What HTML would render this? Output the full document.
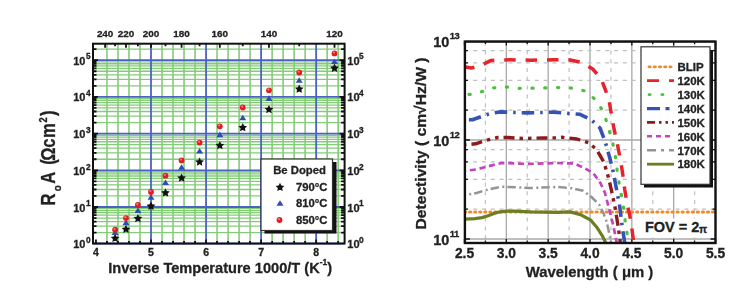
<!DOCTYPE html>
<html><head><meta charset="utf-8"><style>
html,body{margin:0;padding:0;background:#fff;width:750px;height:288px;overflow:hidden}
svg{display:block;filter:blur(0.4px);font-family:"Liberation Sans",sans-serif}
text{stroke:#222;stroke-width:0.3px}
</style></head><body>
<svg width="750" height="288" viewBox="0 0 750 288">
<line x1="106.96" y1="43.7" x2="106.96" y2="243.5" stroke="#84cc78" stroke-width="1.6"/>
<line x1="117.97" y1="43.7" x2="117.97" y2="243.5" stroke="#84cc78" stroke-width="1.6"/>
<line x1="128.98" y1="43.7" x2="128.98" y2="243.5" stroke="#84cc78" stroke-width="1.6"/>
<line x1="139.99" y1="43.7" x2="139.99" y2="243.5" stroke="#84cc78" stroke-width="1.6"/>
<line x1="162.01" y1="43.7" x2="162.01" y2="243.5" stroke="#84cc78" stroke-width="1.6"/>
<line x1="173.02" y1="43.7" x2="173.02" y2="243.5" stroke="#84cc78" stroke-width="1.6"/>
<line x1="184.03" y1="43.7" x2="184.03" y2="243.5" stroke="#84cc78" stroke-width="1.6"/>
<line x1="195.04" y1="43.7" x2="195.04" y2="243.5" stroke="#84cc78" stroke-width="1.6"/>
<line x1="217.06" y1="43.7" x2="217.06" y2="243.5" stroke="#84cc78" stroke-width="1.6"/>
<line x1="228.07" y1="43.7" x2="228.07" y2="243.5" stroke="#84cc78" stroke-width="1.6"/>
<line x1="239.08" y1="43.7" x2="239.08" y2="243.5" stroke="#84cc78" stroke-width="1.6"/>
<line x1="250.09" y1="43.7" x2="250.09" y2="243.5" stroke="#84cc78" stroke-width="1.6"/>
<line x1="272.11" y1="43.7" x2="272.11" y2="243.5" stroke="#84cc78" stroke-width="1.6"/>
<line x1="283.12" y1="43.7" x2="283.12" y2="243.5" stroke="#84cc78" stroke-width="1.6"/>
<line x1="294.13" y1="43.7" x2="294.13" y2="243.5" stroke="#84cc78" stroke-width="1.6"/>
<line x1="305.14" y1="43.7" x2="305.14" y2="243.5" stroke="#84cc78" stroke-width="1.6"/>
<line x1="327.16" y1="43.7" x2="327.16" y2="243.5" stroke="#84cc78" stroke-width="1.6"/>
<line x1="338.17" y1="43.7" x2="338.17" y2="243.5" stroke="#84cc78" stroke-width="1.6"/>
<line x1="93.0" y1="232.65" x2="344.6" y2="232.65" stroke="#84cc78" stroke-width="1.3"/>
<line x1="93.0" y1="226.19" x2="344.6" y2="226.19" stroke="#84cc78" stroke-width="1.3"/>
<line x1="93.0" y1="221.60" x2="344.6" y2="221.60" stroke="#84cc78" stroke-width="1.3"/>
<line x1="93.0" y1="218.05" x2="344.6" y2="218.05" stroke="#84cc78" stroke-width="1.3"/>
<line x1="93.0" y1="215.14" x2="344.6" y2="215.14" stroke="#84cc78" stroke-width="1.3"/>
<line x1="93.0" y1="212.68" x2="344.6" y2="212.68" stroke="#84cc78" stroke-width="1.3"/>
<line x1="93.0" y1="210.56" x2="344.6" y2="210.56" stroke="#84cc78" stroke-width="1.3"/>
<line x1="93.0" y1="208.68" x2="344.6" y2="208.68" stroke="#84cc78" stroke-width="1.3"/>
<line x1="93.0" y1="195.95" x2="344.6" y2="195.95" stroke="#84cc78" stroke-width="1.3"/>
<line x1="93.0" y1="189.49" x2="344.6" y2="189.49" stroke="#84cc78" stroke-width="1.3"/>
<line x1="93.0" y1="184.90" x2="344.6" y2="184.90" stroke="#84cc78" stroke-width="1.3"/>
<line x1="93.0" y1="181.35" x2="344.6" y2="181.35" stroke="#84cc78" stroke-width="1.3"/>
<line x1="93.0" y1="178.44" x2="344.6" y2="178.44" stroke="#84cc78" stroke-width="1.3"/>
<line x1="93.0" y1="175.98" x2="344.6" y2="175.98" stroke="#84cc78" stroke-width="1.3"/>
<line x1="93.0" y1="173.86" x2="344.6" y2="173.86" stroke="#84cc78" stroke-width="1.3"/>
<line x1="93.0" y1="171.98" x2="344.6" y2="171.98" stroke="#84cc78" stroke-width="1.3"/>
<line x1="93.0" y1="159.25" x2="344.6" y2="159.25" stroke="#84cc78" stroke-width="1.3"/>
<line x1="93.0" y1="152.79" x2="344.6" y2="152.79" stroke="#84cc78" stroke-width="1.3"/>
<line x1="93.0" y1="148.20" x2="344.6" y2="148.20" stroke="#84cc78" stroke-width="1.3"/>
<line x1="93.0" y1="144.65" x2="344.6" y2="144.65" stroke="#84cc78" stroke-width="1.3"/>
<line x1="93.0" y1="141.74" x2="344.6" y2="141.74" stroke="#84cc78" stroke-width="1.3"/>
<line x1="93.0" y1="139.28" x2="344.6" y2="139.28" stroke="#84cc78" stroke-width="1.3"/>
<line x1="93.0" y1="137.16" x2="344.6" y2="137.16" stroke="#84cc78" stroke-width="1.3"/>
<line x1="93.0" y1="135.28" x2="344.6" y2="135.28" stroke="#84cc78" stroke-width="1.3"/>
<line x1="93.0" y1="122.55" x2="344.6" y2="122.55" stroke="#84cc78" stroke-width="1.3"/>
<line x1="93.0" y1="116.09" x2="344.6" y2="116.09" stroke="#84cc78" stroke-width="1.3"/>
<line x1="93.0" y1="111.50" x2="344.6" y2="111.50" stroke="#84cc78" stroke-width="1.3"/>
<line x1="93.0" y1="107.95" x2="344.6" y2="107.95" stroke="#84cc78" stroke-width="1.3"/>
<line x1="93.0" y1="105.04" x2="344.6" y2="105.04" stroke="#84cc78" stroke-width="1.3"/>
<line x1="93.0" y1="102.58" x2="344.6" y2="102.58" stroke="#84cc78" stroke-width="1.3"/>
<line x1="93.0" y1="100.46" x2="344.6" y2="100.46" stroke="#84cc78" stroke-width="1.3"/>
<line x1="93.0" y1="98.58" x2="344.6" y2="98.58" stroke="#84cc78" stroke-width="1.3"/>
<line x1="93.0" y1="85.85" x2="344.6" y2="85.85" stroke="#84cc78" stroke-width="1.3"/>
<line x1="93.0" y1="79.39" x2="344.6" y2="79.39" stroke="#84cc78" stroke-width="1.3"/>
<line x1="93.0" y1="74.80" x2="344.6" y2="74.80" stroke="#84cc78" stroke-width="1.3"/>
<line x1="93.0" y1="71.25" x2="344.6" y2="71.25" stroke="#84cc78" stroke-width="1.3"/>
<line x1="93.0" y1="68.34" x2="344.6" y2="68.34" stroke="#84cc78" stroke-width="1.3"/>
<line x1="93.0" y1="65.88" x2="344.6" y2="65.88" stroke="#84cc78" stroke-width="1.3"/>
<line x1="93.0" y1="63.76" x2="344.6" y2="63.76" stroke="#84cc78" stroke-width="1.3"/>
<line x1="93.0" y1="61.88" x2="344.6" y2="61.88" stroke="#84cc78" stroke-width="1.3"/>
<line x1="93.0" y1="49.15" x2="344.6" y2="49.15" stroke="#84cc78" stroke-width="1.3"/>
<line x1="151.00" y1="43.7" x2="151.00" y2="243.5" stroke="#4a62c4" stroke-width="1.8"/>
<line x1="206.05" y1="43.7" x2="206.05" y2="243.5" stroke="#4a62c4" stroke-width="1.8"/>
<line x1="261.10" y1="43.7" x2="261.10" y2="243.5" stroke="#4a62c4" stroke-width="1.8"/>
<line x1="316.15" y1="43.7" x2="316.15" y2="243.5" stroke="#4a62c4" stroke-width="1.8"/>
<line x1="93.0" y1="243.70" x2="344.6" y2="243.70" stroke="#4a62c4" stroke-width="1.8"/>
<line x1="93.0" y1="207.00" x2="344.6" y2="207.00" stroke="#4a62c4" stroke-width="1.8"/>
<line x1="93.0" y1="170.30" x2="344.6" y2="170.30" stroke="#4a62c4" stroke-width="1.8"/>
<line x1="93.0" y1="133.60" x2="344.6" y2="133.60" stroke="#4a62c4" stroke-width="1.8"/>
<line x1="93.0" y1="96.90" x2="344.6" y2="96.90" stroke="#4a62c4" stroke-width="1.8"/>
<line x1="93.0" y1="60.20" x2="344.6" y2="60.20" stroke="#4a62c4" stroke-width="1.8"/>
<path d="M93.0 232.65h3.5M344.6 232.65h-3.5M93.0 226.19h3.5M344.6 226.19h-3.5M93.0 221.60h3.5M344.6 221.60h-3.5M93.0 218.05h3.5M344.6 218.05h-3.5M93.0 215.14h3.5M344.6 215.14h-3.5M93.0 212.68h3.5M344.6 212.68h-3.5M93.0 210.56h3.5M344.6 210.56h-3.5M93.0 208.68h3.5M344.6 208.68h-3.5M93.0 207.00h5M344.6 207.00h-5M93.0 195.95h3.5M344.6 195.95h-3.5M93.0 189.49h3.5M344.6 189.49h-3.5M93.0 184.90h3.5M344.6 184.90h-3.5M93.0 181.35h3.5M344.6 181.35h-3.5M93.0 178.44h3.5M344.6 178.44h-3.5M93.0 175.98h3.5M344.6 175.98h-3.5M93.0 173.86h3.5M344.6 173.86h-3.5M93.0 171.98h3.5M344.6 171.98h-3.5M93.0 170.30h5M344.6 170.30h-5M93.0 159.25h3.5M344.6 159.25h-3.5M93.0 152.79h3.5M344.6 152.79h-3.5M93.0 148.20h3.5M344.6 148.20h-3.5M93.0 144.65h3.5M344.6 144.65h-3.5M93.0 141.74h3.5M344.6 141.74h-3.5M93.0 139.28h3.5M344.6 139.28h-3.5M93.0 137.16h3.5M344.6 137.16h-3.5M93.0 135.28h3.5M344.6 135.28h-3.5M93.0 133.60h5M344.6 133.60h-5M93.0 122.55h3.5M344.6 122.55h-3.5M93.0 116.09h3.5M344.6 116.09h-3.5M93.0 111.50h3.5M344.6 111.50h-3.5M93.0 107.95h3.5M344.6 107.95h-3.5M93.0 105.04h3.5M344.6 105.04h-3.5M93.0 102.58h3.5M344.6 102.58h-3.5M93.0 100.46h3.5M344.6 100.46h-3.5M93.0 98.58h3.5M344.6 98.58h-3.5M93.0 96.90h5M344.6 96.90h-5M93.0 85.85h3.5M344.6 85.85h-3.5M93.0 79.39h3.5M344.6 79.39h-3.5M93.0 74.80h3.5M344.6 74.80h-3.5M93.0 71.25h3.5M344.6 71.25h-3.5M93.0 68.34h3.5M344.6 68.34h-3.5M93.0 65.88h3.5M344.6 65.88h-3.5M93.0 63.76h3.5M344.6 63.76h-3.5M93.0 61.88h3.5M344.6 61.88h-3.5M93.0 60.20h5M344.6 60.20h-5M93.0 49.15h3.5M344.6 49.15h-3.5M95.95 243.5v-4M106.96 243.5v-2.5M117.97 243.5v-2.5M128.98 243.5v-2.5M139.99 243.5v-2.5M151.00 243.5v-4M162.01 243.5v-2.5M173.02 243.5v-2.5M184.03 243.5v-2.5M195.04 243.5v-2.5M206.05 243.5v-4M217.06 243.5v-2.5M228.07 243.5v-2.5M239.08 243.5v-2.5M250.09 243.5v-2.5M261.10 243.5v-4M272.11 243.5v-2.5M283.12 243.5v-2.5M294.13 243.5v-2.5M305.14 243.5v-2.5M316.15 243.5v-4M327.16 243.5v-2.5M338.17 243.5v-2.5M334.50 43.7v4M299.21 43.7v2.5M268.96 43.7v4M242.75 43.7v2.5M219.81 43.7v4M199.57 43.7v2.5M181.58 43.7v4M165.49 43.7v2.5M151.00 43.7v4M137.89 43.7v2.5M125.98 43.7v4M115.10 43.7v2.5M105.13 43.7v4" stroke="#111" stroke-width="1.8" fill="none"/>
<polygon points="115.10,233.80 116.45,236.54 119.47,236.98 117.29,239.11 117.80,242.12 115.10,240.70 112.39,242.12 112.91,239.11 110.72,236.98 113.75,236.54" fill="#111"/>
<polygon points="111.60,235.10 118.60,235.10 115.10,229.50" fill="#2f4fae"/>
<circle cx="115.10" cy="229.70" r="2.9" fill="#e41b23"/><circle cx="114.50" cy="228.80" r="1.1" fill="#f47a7a"/>
<polygon points="125.98,224.70 127.33,227.44 130.35,227.88 128.16,230.01 128.68,233.02 125.98,231.60 123.27,233.02 123.79,230.01 121.60,227.88 124.63,227.44" fill="#111"/>
<polygon points="122.48,225.20 129.48,225.20 125.98,219.60" fill="#2f4fae"/>
<circle cx="125.98" cy="218.10" r="2.9" fill="#e41b23"/><circle cx="125.38" cy="217.20" r="1.1" fill="#f47a7a"/>
<polygon points="137.89,213.90 139.24,216.64 142.27,217.08 140.08,219.21 140.60,222.22 137.89,220.80 135.19,222.22 135.71,219.21 133.52,217.08 136.54,216.64" fill="#111"/>
<polygon points="134.39,213.10 141.39,213.10 137.89,207.50" fill="#2f4fae"/>
<circle cx="137.89" cy="205.00" r="2.9" fill="#e41b23"/><circle cx="137.29" cy="204.10" r="1.1" fill="#f47a7a"/>
<polygon points="151.00,201.60 152.35,204.34 155.37,204.78 153.19,206.91 153.70,209.92 151.00,208.50 148.30,209.92 148.81,206.91 146.63,204.78 149.65,204.34" fill="#111"/>
<polygon points="147.50,199.80 154.50,199.80 151.00,194.20" fill="#2f4fae"/>
<circle cx="151.00" cy="191.90" r="2.9" fill="#e41b23"/><circle cx="150.40" cy="191.00" r="1.1" fill="#f47a7a"/>
<polygon points="165.49,188.30 166.84,191.04 169.86,191.48 167.67,193.61 168.19,196.62 165.49,195.20 162.78,196.62 163.30,193.61 161.11,191.48 164.13,191.04" fill="#111"/>
<polygon points="161.99,185.10 168.99,185.10 165.49,179.50" fill="#2f4fae"/>
<circle cx="165.49" cy="175.70" r="2.9" fill="#e41b23"/><circle cx="164.89" cy="174.80" r="1.1" fill="#f47a7a"/>
<polygon points="181.58,173.40 182.94,176.14 185.96,176.58 183.77,178.71 184.29,181.72 181.58,180.30 178.88,181.72 179.40,178.71 177.21,176.58 180.23,176.14" fill="#111"/>
<polygon points="178.08,169.80 185.08,169.80 181.58,164.20" fill="#2f4fae"/>
<circle cx="181.58" cy="160.40" r="2.9" fill="#e41b23"/><circle cx="180.98" cy="159.50" r="1.1" fill="#f47a7a"/>
<polygon points="199.57,157.40 200.93,160.14 203.95,160.58 201.76,162.71 202.28,165.72 199.57,164.30 196.87,165.72 197.39,162.71 195.20,160.58 198.22,160.14" fill="#111"/>
<polygon points="196.07,153.50 203.07,153.50 199.57,147.90" fill="#2f4fae"/>
<circle cx="199.57" cy="142.60" r="2.9" fill="#e41b23"/><circle cx="198.97" cy="141.70" r="1.1" fill="#f47a7a"/>
<polygon points="219.81,140.90 221.16,143.64 224.19,144.08 222.00,146.21 222.52,149.22 219.81,147.80 217.11,149.22 217.63,146.21 215.44,144.08 218.46,143.64" fill="#111"/>
<polygon points="216.31,137.20 223.31,137.20 219.81,131.60" fill="#2f4fae"/>
<circle cx="219.81" cy="126.30" r="2.9" fill="#e41b23"/><circle cx="219.21" cy="125.40" r="1.1" fill="#f47a7a"/>
<polygon points="242.75,123.00 244.10,125.74 247.12,126.18 244.94,128.31 245.45,131.32 242.75,129.90 240.05,131.32 240.56,128.31 238.38,126.18 241.40,125.74" fill="#111"/>
<polygon points="239.25,120.30 246.25,120.30 242.75,114.70" fill="#2f4fae"/>
<circle cx="242.75" cy="107.50" r="2.9" fill="#e41b23"/><circle cx="242.15" cy="106.60" r="1.1" fill="#f47a7a"/>
<polygon points="268.96,104.90 270.32,107.64 273.34,108.08 271.15,110.21 271.67,113.22 268.96,111.80 266.26,113.22 266.78,110.21 264.59,108.08 267.61,107.64" fill="#111"/>
<polygon points="265.46,100.90 272.46,100.90 268.96,95.30" fill="#2f4fae"/>
<circle cx="268.96" cy="90.30" r="2.9" fill="#e41b23"/><circle cx="268.36" cy="89.40" r="1.1" fill="#f47a7a"/>
<polygon points="299.21,84.50 300.56,87.24 303.59,87.68 301.40,89.81 301.92,92.82 299.21,91.40 296.51,92.82 297.02,89.81 294.84,87.68 297.86,87.24" fill="#111"/>
<polygon points="295.71,82.80 302.71,82.80 299.21,77.20" fill="#2f4fae"/>
<circle cx="299.21" cy="72.50" r="2.9" fill="#e41b23"/><circle cx="298.61" cy="71.60" r="1.1" fill="#f47a7a"/>
<polygon points="334.50,63.60 335.85,66.34 338.87,66.78 336.69,68.91 337.20,71.92 334.50,70.50 331.80,71.92 332.31,68.91 330.13,66.78 333.15,66.34" fill="#111"/>
<polygon points="331.00,64.05 338.00,64.05 334.50,58.45" fill="#2f4fae"/>
<circle cx="334.50" cy="53.40" r="2.9" fill="#e41b23"/><circle cx="333.90" cy="52.50" r="1.1" fill="#f47a7a"/>
<rect x="264.5" y="162" width="72" height="71.5" fill="#111"/>
<rect x="261" y="159" width="71.5" height="71.5" fill="#fff" stroke="#333" stroke-width="1.2"/>
<text x="273.2" y="173.6" font-size="11.3" font-weight="bold" fill="#222">Be Doped</text>
<polygon points="280.00,182.80 281.35,185.54 284.37,185.98 282.19,188.11 282.70,191.12 280.00,189.70 277.30,191.12 277.81,188.11 275.63,185.98 278.65,185.54" fill="#111"/>
<polygon points="276.50,205.80 283.50,205.80 280.00,200.20" fill="#2f4fae"/>
<circle cx="279.50" cy="220.00" r="2.9" fill="#e41b23"/><circle cx="278.90" cy="219.10" r="1.1" fill="#f47a7a"/>
<text x="296" y="190.5" font-size="11.3" font-weight="bold" fill="#222">790°C</text>
<text x="296" y="207" font-size="11.3" font-weight="bold" fill="#222">810°C</text>
<text x="296" y="223.5" font-size="11.3" font-weight="bold" fill="#222">850°C</text>
<rect x="93.0" y="43.7" width="251.60000000000002" height="199.8" fill="none" stroke="#111" stroke-width="2"/>
<text x="95.95" y="256" font-size="10.5" font-weight="bold" fill="#222" text-anchor="middle">4</text>
<text x="151.00" y="256" font-size="10.5" font-weight="bold" fill="#222" text-anchor="middle">5</text>
<text x="206.05" y="256" font-size="10.5" font-weight="bold" fill="#222" text-anchor="middle">6</text>
<text x="261.10" y="256" font-size="10.5" font-weight="bold" fill="#222" text-anchor="middle">7</text>
<text x="316.15" y="256" font-size="10.5" font-weight="bold" fill="#222" text-anchor="middle">8</text>
<text x="105.13" y="37.3" font-size="9.9" font-weight="bold" fill="#222" text-anchor="middle">240</text>
<text x="125.98" y="37.3" font-size="9.9" font-weight="bold" fill="#222" text-anchor="middle">220</text>
<text x="151.00" y="37.3" font-size="9.9" font-weight="bold" fill="#222" text-anchor="middle">200</text>
<text x="181.58" y="37.3" font-size="9.9" font-weight="bold" fill="#222" text-anchor="middle">180</text>
<text x="219.81" y="37.3" font-size="9.9" font-weight="bold" fill="#222" text-anchor="middle">160</text>
<text x="268.96" y="37.3" font-size="9.9" font-weight="bold" fill="#222" text-anchor="middle">140</text>
<text x="334.50" y="37.3" font-size="9.9" font-weight="bold" fill="#222" text-anchor="middle">120</text>
<text x="85.5" y="248.20" font-size="11" font-weight="bold" fill="#222" text-anchor="end">10</text>
<text x="86" y="242.90" font-size="8.3" font-weight="bold" fill="#222">0</text>
<text x="347.3" y="248.20" font-size="11" font-weight="bold" fill="#222">10</text>
<text x="359" y="242.90" font-size="8.3" font-weight="bold" fill="#222">0</text>
<text x="85.5" y="211.50" font-size="11" font-weight="bold" fill="#222" text-anchor="end">10</text>
<text x="86" y="206.20" font-size="8.3" font-weight="bold" fill="#222">1</text>
<text x="347.3" y="211.50" font-size="11" font-weight="bold" fill="#222">10</text>
<text x="359" y="206.20" font-size="8.3" font-weight="bold" fill="#222">1</text>
<text x="85.5" y="174.80" font-size="11" font-weight="bold" fill="#222" text-anchor="end">10</text>
<text x="86" y="169.50" font-size="8.3" font-weight="bold" fill="#222">2</text>
<text x="347.3" y="174.80" font-size="11" font-weight="bold" fill="#222">10</text>
<text x="359" y="169.50" font-size="8.3" font-weight="bold" fill="#222">2</text>
<text x="85.5" y="138.10" font-size="11" font-weight="bold" fill="#222" text-anchor="end">10</text>
<text x="86" y="132.80" font-size="8.3" font-weight="bold" fill="#222">3</text>
<text x="347.3" y="138.10" font-size="11" font-weight="bold" fill="#222">10</text>
<text x="359" y="132.80" font-size="8.3" font-weight="bold" fill="#222">3</text>
<text x="85.5" y="101.40" font-size="11" font-weight="bold" fill="#222" text-anchor="end">10</text>
<text x="86" y="96.10" font-size="8.3" font-weight="bold" fill="#222">4</text>
<text x="347.3" y="101.40" font-size="11" font-weight="bold" fill="#222">10</text>
<text x="359" y="96.10" font-size="8.3" font-weight="bold" fill="#222">4</text>
<text x="85.5" y="64.70" font-size="11" font-weight="bold" fill="#222" text-anchor="end">10</text>
<text x="86" y="59.40" font-size="8.3" font-weight="bold" fill="#222">5</text>
<text x="347.3" y="64.70" font-size="11" font-weight="bold" fill="#222">10</text>
<text x="359" y="59.40" font-size="8.3" font-weight="bold" fill="#222">5</text>
<text x="108.2" y="273.1" font-size="15.4" font-weight="bold" fill="#222" textLength="224" lengthAdjust="spacingAndGlyphs">Inverse Temperature 1000/T (K<tspan font-size="9" dy="-8.5">-1</tspan><tspan dy="8.5">)</tspan></text>
<text transform="translate(54.8,204.5) rotate(-90) scale(0.85,1)" font-weight="bold" fill="#222" stroke="#222" stroke-width="0.45"><tspan x="-1.14" y="0" font-size="19.5">R</tspan><tspan x="15.66" y="6.3" font-size="11.5">o</tspan><tspan x="24.38" y="0" font-size="19.5">A</tspan><tspan x="46.86" y="0" font-size="19.5">(</tspan><tspan x="51.59" y="0" font-size="19.5">Ω</tspan><tspan x="66.72" y="0" font-size="19.5">c</tspan><tspan x="78.12" y="0" font-size="19.5">m</tspan><tspan x="96.41" y="-7.8" font-size="10.9">2</tspan><tspan x="104.05" y="0" font-size="19.5">)</tspan></text>
<line x1="485.42" y1="41.6" x2="485.42" y2="243.0" stroke="#c0c0c0" stroke-width="1.2" stroke-dasharray="4 4.8"/>
<line x1="506.33" y1="41.6" x2="506.33" y2="243.0" stroke="#a8a8a8" stroke-width="1.3"/>
<line x1="527.25" y1="41.6" x2="527.25" y2="243.0" stroke="#c0c0c0" stroke-width="1.2" stroke-dasharray="4 4.8"/>
<line x1="548.17" y1="41.6" x2="548.17" y2="243.0" stroke="#a8a8a8" stroke-width="1.3"/>
<line x1="569.09" y1="41.6" x2="569.09" y2="243.0" stroke="#c0c0c0" stroke-width="1.2" stroke-dasharray="4 4.8"/>
<line x1="590.00" y1="41.6" x2="590.00" y2="243.0" stroke="#a8a8a8" stroke-width="1.3"/>
<line x1="610.92" y1="41.6" x2="610.92" y2="243.0" stroke="#c0c0c0" stroke-width="1.2" stroke-dasharray="4 4.8"/>
<line x1="631.84" y1="41.6" x2="631.84" y2="243.0" stroke="#a8a8a8" stroke-width="1.3"/>
<line x1="652.76" y1="41.6" x2="652.76" y2="243.0" stroke="#c0c0c0" stroke-width="1.2" stroke-dasharray="4 4.8"/>
<line x1="673.67" y1="41.6" x2="673.67" y2="243.0" stroke="#a8a8a8" stroke-width="1.3"/>
<line x1="694.59" y1="41.6" x2="694.59" y2="243.0" stroke="#c0c0c0" stroke-width="1.2" stroke-dasharray="4 4.8"/>
<line x1="464.9" y1="209.20" x2="715.5" y2="209.20" stroke="#c0c0c0" stroke-width="1.2" stroke-dasharray="4 4.8" stroke-dashoffset="0.5"/>
<line x1="464.9" y1="179.40" x2="715.5" y2="179.40" stroke="#c0c0c0" stroke-width="1.2" stroke-dasharray="4 4.8" stroke-dashoffset="0.5"/>
<line x1="464.9" y1="161.96" x2="715.5" y2="161.96" stroke="#c0c0c0" stroke-width="1.2" stroke-dasharray="4 4.8" stroke-dashoffset="0.5"/>
<line x1="464.9" y1="149.59" x2="715.5" y2="149.59" stroke="#c0c0c0" stroke-width="1.2" stroke-dasharray="4 4.8" stroke-dashoffset="0.5"/>
<line x1="464.9" y1="110.20" x2="715.5" y2="110.20" stroke="#c0c0c0" stroke-width="1.2" stroke-dasharray="4 4.8" stroke-dashoffset="0.5"/>
<line x1="464.9" y1="80.40" x2="715.5" y2="80.40" stroke="#c0c0c0" stroke-width="1.2" stroke-dasharray="4 4.8" stroke-dashoffset="0.5"/>
<line x1="464.9" y1="62.96" x2="715.5" y2="62.96" stroke="#c0c0c0" stroke-width="1.2" stroke-dasharray="4 4.8" stroke-dashoffset="0.5"/>
<line x1="464.9" y1="50.59" x2="715.5" y2="50.59" stroke="#c0c0c0" stroke-width="1.2" stroke-dasharray="4 4.8" stroke-dashoffset="0.5"/>
<line x1="464.9" y1="239.00" x2="715.5" y2="239.00" stroke="#a8a8a8" stroke-width="1.3"/>
<line x1="464.9" y1="140.00" x2="715.5" y2="140.00" stroke="#a8a8a8" stroke-width="1.3"/>
<line x1="464.9" y1="41.00" x2="715.5" y2="41.00" stroke="#a8a8a8" stroke-width="1.3"/>
<path d="M464.9 239.00h5M715.5 239.00h-5M464.9 209.20h3M715.5 209.20h-3M464.9 179.40h3M715.5 179.40h-3M464.9 161.96h3M715.5 161.96h-3M464.9 149.59h3M715.5 149.59h-3M464.9 140.00h5M715.5 140.00h-5M464.9 110.20h3M715.5 110.20h-3M464.9 80.40h3M715.5 80.40h-3M464.9 62.96h3M715.5 62.96h-3M464.9 50.59h3M715.5 50.59h-3M464.50 243.0v-4M464.50 41.6v4M485.42 243.0v-2.5M485.42 41.6v2.5M506.33 243.0v-4M506.33 41.6v4M527.25 243.0v-2.5M527.25 41.6v2.5M548.17 243.0v-4M548.17 41.6v4M569.09 243.0v-2.5M569.09 41.6v2.5M590.00 243.0v-4M590.00 41.6v4M610.92 243.0v-2.5M610.92 41.6v2.5M631.84 243.0v-4M631.84 41.6v4M652.76 243.0v-2.5M652.76 41.6v2.5M673.67 243.0v-4M673.67 41.6v4M694.59 243.0v-2.5M694.59 41.6v2.5M715.51 243.0v-4M715.51 41.6v4" stroke="#111" stroke-width="1.3" fill="none"/>
<clipPath id="cr"><rect x="464.9" y="41.6" width="250.60000000000002" height="201.4"/></clipPath>
<g clip-path="url(#cr)"><line x1="464.9" y1="212.1" x2="715.5" y2="212.1" stroke="#f28a2a" stroke-width="3.0" stroke-dasharray="1.2 3.86" stroke-linecap="round" stroke-dashoffset="0.4"/>
<path d="M465.0 219.2 L475.0 218.6 L482.0 217.6 L488.0 215.8 L494.0 213.4 L500.0 211.8 L507.0 211.1 L515.0 211.2 L530.0 211.9 L557.0 212.3 L570.0 211.9 L580.4 214.6 L590.8 220.2 L597.0 227.5 L602.3 235.8 L605.8 243.0 L606.5 246.0" stroke="#6e7c22" stroke-width="3.2" fill="none" stroke-linejoin="round"/>
<path d="M465.0 195.0 L476.7 193.0 L485.0 190.3 L501.7 186.7 L529.4 188.0 L557.2 187.0 L572.0 188.3 L583.2 190.8 L591.5 197.0 L599.2 204.6 L603.3 212.9 L606.5 221.2 L608.5 230.0 L610.6 240.0 L611.2 245.0" stroke="#959595" stroke-width="2.5" fill="none" stroke-linejoin="round" stroke-dasharray="8.5 3.5 2 3" stroke-dashoffset="7.69"/>
<path d="M465.0 170.8 L476.7 169.4 L486.4 166.7 L501.7 163.0 L529.4 163.9 L557.2 163.0 L574.6 163.5 L583.7 167.7 L593.4 173.2 L600.7 183.5 L605.0 193.0 L609.5 210.3 L612.7 223.2 L615.8 237.3 L617.0 245.0" stroke="#c444c0" stroke-width="2.7" fill="none" stroke-linejoin="round" stroke-dasharray="6 3.8" stroke-dashoffset="4.89"/>
<path d="M465.0 144.8 L475.6 143.8 L485.0 140.6 L497.5 137.5 L508.0 137.5 L522.5 138.5 L543.0 138.0 L555.0 137.9 L562.0 137.3 L577.0 139.0 L588.5 142.7 L596.5 149.4 L603.8 162.0 L607.5 174.0 L610.0 184.0 L612.5 195.0 L614.8 206.0 L616.8 218.0 L618.5 229.0 L620.0 240.0 L620.5 245.0" stroke="#8c1c1c" stroke-width="3.4" fill="none" stroke-linejoin="round" stroke-dasharray="11 5 3.5 5 3.5 5" stroke-dashoffset="26.52"/>
<path d="M465.0 119.8 L472.5 119.8 L484.0 115.6 L490.0 113.5 L500.6 111.9 L526.7 112.9 L553.8 112.1 L580.0 114.3 L591.0 119.5 L600.0 128.0 L604.0 138.5 L606.5 146.0 L609.8 158.0 L613.0 171.0 L615.5 184.0 L617.8 196.0 L619.8 207.0 L621.0 217.0 L622.3 227.5 L624.0 238.0 L625.0 245.0" stroke="#3552b5" stroke-width="3.6" fill="none" stroke-linejoin="round" stroke-dasharray="12.5 6 2.5 6" stroke-dashoffset="23.06"/>
<path d="M465.0 94.6 L473.5 94.2 L480.8 92.0 L492.3 88.0 L504.8 86.9 L518.0 88.3 L543.0 88.0 L557.0 87.5 L570.8 88.0 L585.4 91.0 L597.0 101.0 L604.3 113.8 L608.0 126.5 L611.6 138.6 L614.7 151.9 L616.4 164.0 L617.8 176.2 L620.3 189.6 L623.0 203.5 L624.5 216.0 L626.2 228.5 L628.3 240.0 L629.0 245.0" stroke="#4cbf3c" stroke-width="3.2" fill="none" stroke-linejoin="round" stroke-dasharray="1.2 11.6" stroke-dashoffset="8.74" stroke-linecap="round"/>
<path d="M465.0 67.0 L471.5 68.0 L480.0 66.0 L491.0 60.4 L510.0 59.8 L531.0 60.2 L554.0 59.8 L569.0 59.8 L582.0 62.5 L592.7 69.0 L601.0 78.5 L605.5 90.0 L609.2 101.0 L611.5 115.0 L614.0 129.0 L617.0 142.0 L619.5 155.0 L621.5 166.0 L623.3 178.0 L624.8 190.0 L627.0 203.0 L629.5 214.0 L631.5 226.0 L633.0 237.0 L634.0 245.0" stroke="#e8232b" stroke-width="3.5" fill="none" stroke-linejoin="round" stroke-dasharray="11.5 9.9" stroke-dashoffset="1.94"/></g>
<rect x="644" y="50" width="69" height="137.5" fill="#111"/>
<rect x="641" y="46.8" width="69" height="137.5" fill="#fff" stroke="#333" stroke-width="1.2"/>
<line x1="649" y1="66.80" x2="674" y2="66.80" stroke="#f28a2a" stroke-width="2.8" stroke-linecap="round" stroke-dasharray="1.3 3.9"/>
<text x="677.4" y="71.10" font-size="11.5" font-weight="bold" fill="#222">BLIP</text>
<line x1="647" y1="80.71" x2="674" y2="80.71" stroke="#e8232b" stroke-width="2.8" stroke-dasharray="12 10"/>
<text x="677.4" y="85.01" font-size="11.5" font-weight="bold" fill="#222">120K</text>
<line x1="649" y1="94.62" x2="674" y2="94.62" stroke="#4cbf3c" stroke-width="2.8" stroke-linecap="round" stroke-dasharray="1.2 11.6"/>
<text x="677.4" y="98.92" font-size="11.5" font-weight="bold" fill="#222">130K</text>
<line x1="647" y1="108.53" x2="674" y2="108.53" stroke="#3552b5" stroke-width="3.3" stroke-dasharray="13 5.5 4 6"/>
<text x="677.4" y="112.83" font-size="11.5" font-weight="bold" fill="#222">140K</text>
<line x1="647" y1="122.44" x2="674" y2="122.44" stroke="#8c1c1c" stroke-width="2.8" stroke-dasharray="8 4 2.5 4 2.5 4"/>
<text x="677.4" y="126.74" font-size="11.5" font-weight="bold" fill="#222">150K</text>
<line x1="647" y1="136.35" x2="674" y2="136.35" stroke="#c444c0" stroke-width="2.5" stroke-dasharray="5 4"/>
<text x="677.4" y="140.65" font-size="11.5" font-weight="bold" fill="#222">160K</text>
<line x1="647" y1="150.26" x2="674" y2="150.26" stroke="#959595" stroke-width="2.4" stroke-dasharray="9 5 3 5"/>
<text x="677.4" y="154.56" font-size="11.5" font-weight="bold" fill="#222">170K</text>
<line x1="647" y1="164.17" x2="674" y2="164.17" stroke="#6e7c22" stroke-width="2.8"/>
<text x="677.4" y="168.47" font-size="11.5" font-weight="bold" fill="#222">180K</text>
<rect x="464.9" y="41.6" width="250.60000000000002" height="201.4" fill="none" stroke="#111" stroke-width="2.4"/>
<text x="464.50" y="258" font-size="13.8" font-weight="bold" fill="#222" text-anchor="middle">2.5</text>
<text x="506.33" y="258" font-size="13.8" font-weight="bold" fill="#222" text-anchor="middle">3.0</text>
<text x="548.17" y="258" font-size="13.8" font-weight="bold" fill="#222" text-anchor="middle">3.5</text>
<text x="590.00" y="258" font-size="13.8" font-weight="bold" fill="#222" text-anchor="middle">4.0</text>
<text x="631.84" y="258" font-size="13.8" font-weight="bold" fill="#222" text-anchor="middle">4.5</text>
<text x="673.67" y="258" font-size="13.8" font-weight="bold" fill="#222" text-anchor="middle">5.0</text>
<text x="715.51" y="258" font-size="13.8" font-weight="bold" fill="#222" text-anchor="middle">5.5</text>
<text x="449.3" y="46.50" font-size="14.5" font-weight="bold" fill="#222" text-anchor="end">10</text>
<text x="449.8" y="38.50" font-size="9.5" font-weight="bold" fill="#222" letter-spacing="-0.5">13</text>
<text x="449.3" y="145.50" font-size="14.5" font-weight="bold" fill="#222" text-anchor="end">10</text>
<text x="449.8" y="137.50" font-size="9.5" font-weight="bold" fill="#222" letter-spacing="-0.5">12</text>
<text x="449.3" y="244.50" font-size="14.5" font-weight="bold" fill="#222" text-anchor="end">10</text>
<text x="449.8" y="236.50" font-size="9.5" font-weight="bold" fill="#222" letter-spacing="-0.5">11</text>
<text x="525.8" y="276.9" font-size="15.4" font-weight="bold" fill="#222" textLength="127.5" lengthAdjust="spacingAndGlyphs">Wavelength ( μm )</text>
<text transform="translate(425.7,229.5) rotate(-90)" font-size="15.3" font-weight="bold" fill="#222" textLength="172" lengthAdjust="spacingAndGlyphs">Detectivity ( cm√Hz/W )</text>
<rect x="641" y="218.5" width="71" height="19" fill="#fff"/>
<text x="644.9" y="232.4" font-size="14.5" font-weight="bold" fill="#222">FOV = 2<tspan font-size="10.5" dy="1" dx="-0.3">π</tspan></text>
</svg>
</body></html>
